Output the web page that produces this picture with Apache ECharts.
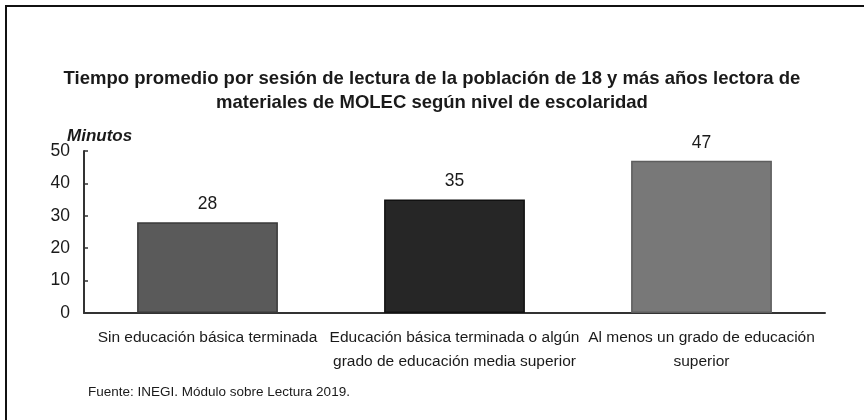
<!DOCTYPE html>
<html>
<head>
<meta charset="utf-8">
<script src="https://cdn.jsdelivr.net/npm/echarts@6/dist/echarts.min.js"></script>
<style>
  html, body { margin: 0; padding: 0; background: #fff; }
  #chart { width: 864px; height: 420px; }
</style>
</head>
<body>
<div id="chart"></div>
<script>
const categories = [
  'Sin educación básica terminada',
  'Educación básica terminada o algún\ngrado de educación media superior',
  'Al menos un grado de educación\nsuperior'
];
const values = [28, 35, 47];
const barColors = ['#5a5a5a', '#262626', '#787878'];
const barBorders = ['#3a3a3a', '#111111', '#5e5e5e'];

const font = '"Liberation Sans", Arial, sans-serif';

const chart = echarts.init(document.getElementById('chart'));

chart.setOption({
  backgroundColor: '#fff',
  animation: false,
  title: {
    text: 'Tiempo promedio por sesión de lectura de la población de 18 y más años lectora de\nmateriales de MOLEC según nivel de escolaridad',
    left: 'center',
    top: 62,
    textStyle: {
      fontFamily: font,
      fontSize: 18.5,
      fontWeight: 'bold',
      color: '#1a1a1a',
      lineHeight: 24
    }
  },
  graphic: [
    {
      type: 'text',
      left: 67,
      top: 128,
      style: {
        text: 'Minutos',
        font: 'italic bold 17px ' + font,
        fill: '#1a1a1a'
      }
    },
    {
      type: 'text',
      left: 88,
      top: 385,
      style: {
        text: 'Fuente: INEGI. Módulo sobre Lectura 2019.',
        font: '13.5px ' + font,
        fill: '#1a1a1a'
      }
    },
    {
      type: 'polyline',
      shape: { points: [[6, 430], [6, 6], [870, 6]] },
      style: { stroke: '#111', lineWidth: 2, fill: null }
    }
  ],
  grid: {
    left: 84,
    right: 39,
    top: 151,
    bottom: 107
  },
  xAxis: {
    type: 'category',
    data: categories,
    axisLine: { lineStyle: { color: '#333', width: 2 } },
    axisTick: { show: false },
    axisLabel: {
      interval: 0,
      margin: 13,
      fontFamily: font,
      fontSize: 15.5,
      lineHeight: 24,
      color: '#1a1a1a'
    }
  },
  yAxis: {
    type: 'value',
    min: 0,
    max: 50,
    interval: 10,
    splitLine: { show: false },
    axisLine: { show: true, lineStyle: { color: '#333', width: 2 } },
    axisTick: { show: true, inside: true, length: 4, lineStyle: { color: '#333', width: 1.5 } },
    axisLabel: {
      margin: 14,
      fontFamily: font,
      fontSize: 17.5,
      color: '#1a1a1a'
    }
  },
  series: [{
    type: 'bar',
    barWidth: '57%',
    data: values.map((v, i) => ({
      value: v,
      itemStyle: { color: barColors[i], borderColor: barBorders[i], borderWidth: 1.5 }
    })),
    label: {
      show: true,
      position: 'top',
      distance: 9,
      fontFamily: font,
      fontSize: 17.5,
      color: '#1a1a1a'
    }
  }]
});
</script>
</body>
</html>
